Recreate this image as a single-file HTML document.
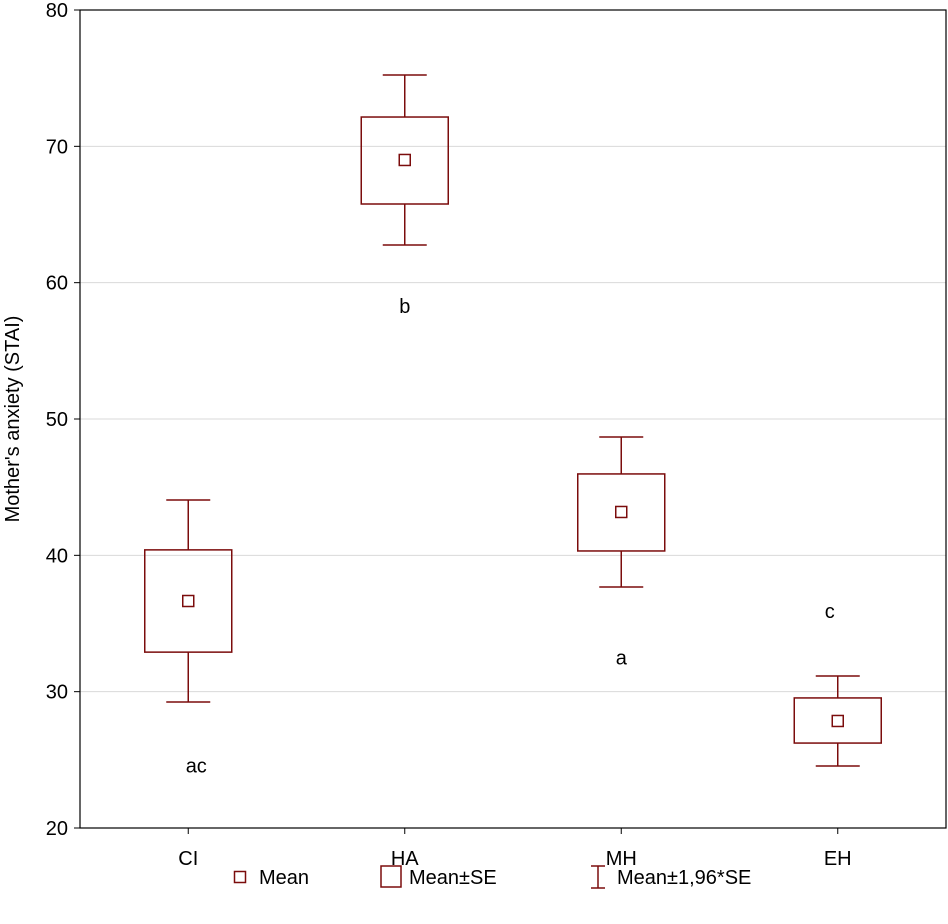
<!DOCTYPE html>
<html><head><meta charset="utf-8"><style>
body{margin:0;background:#fff;}
svg text{font-family:"Liberation Sans",Arial,sans-serif;fill:#000;}
</style></head><body>
<svg id="chart" width="948" height="919" xmlns="http://www.w3.org/2000/svg"></svg>
<script>
const categories=["CI","HA","MH","EH"];
const means=[36.65,69.0,43.18,27.85];
const seLow=[32.9,65.77,40.32,26.23];
const seHigh=[40.4,72.15,45.97,29.54];
const ciLow=[29.24,62.76,37.68,24.55];
const ciHigh=[44.06,75.23,48.68,31.15];
const groupLetters=["ac","b","a","c"];
const letterValues=[24.6,58.3,32.5,35.9];
const yTicks=[20,30,40,50,60,70,80];

const L=80,R=946,T=10,B=828,yMin=20,yMax=80;
const C="#7b0c0c";
const svg=document.getElementById('chart');
const NS="http://www.w3.org/2000/svg";
function y(v){return B-(v-yMin)/(yMax-yMin)*(B-T);}
function x(i){const w=(R-L)/categories.length;return L+w*(i+0.5);}
function el(tag,attrs,parent){const e=document.createElementNS(NS,tag);for(const k in attrs)e.setAttribute(k,attrs[k]);(parent||svg).appendChild(e);return e;}

yTicks.forEach(t=>{
  if(t>yMin&&t<yMax){const g=el('line',{x1:L,x2:R,y1:y(t),y2:y(t),stroke:"#d9d9d9","stroke-width":1});
  
  }
  const tk=el('line',{x1:L-6,x2:L,y1:y(t),y2:y(t),stroke:"#000"});
  
  
  const tx=el('text',{x:L-12,y:y(t)+7,"text-anchor":"end","font-size":20});
  tx.textContent=t;
  
  
});
const frame=el('rect',{x:L,y:T,width:R-L,height:B-T,fill:"none",stroke:"#000","stroke-width":1.2});



categories.forEach((c,i)=>{
  const cx=x(i);
  const tk=el('line',{x1:cx,x2:cx,y1:B,y2:B+6,stroke:"#000"});
  
  
  const lb=el('text',{x:cx,y:B+37,"text-anchor":"middle","font-size":20});
  lb.textContent=c;
  
  
  const g=el('g',{});
  
  
  el('line',{x1:cx,x2:cx,y1:y(ciHigh[i]),y2:y(seHigh[i]),stroke:C,"stroke-width":1.5},g);
  el('line',{x1:cx,x2:cx,y1:y(seLow[i]),y2:y(ciLow[i]),stroke:C,"stroke-width":1.5},g);
  el('line',{x1:cx-22,x2:cx+22,y1:y(ciHigh[i]),y2:y(ciHigh[i]),stroke:C,"stroke-width":1.5},g);
  el('line',{x1:cx-22,x2:cx+22,y1:y(ciLow[i]),y2:y(ciLow[i]),stroke:C,"stroke-width":1.5},g);
  el('rect',{x:cx-43.5,y:y(seHigh[i]),width:87,height:y(seLow[i])-y(seHigh[i]),fill:"none",stroke:C,"stroke-width":1.5},g);
  el('rect',{x:cx-5.5,y:y(means[i])-5.5,width:11,height:11,fill:"none",stroke:C,"stroke-width":1.5},g);
  const lt=el('text',{x:cx+(i===0?8:i===3?-8:0),y:y(letterValues[i])+7,"text-anchor":"middle","font-size":20});
  lt.textContent=groupLetters[i];
  
  
});

const yt=el('text',{x:0,y:0,"text-anchor":"middle","font-size":20,transform:"translate(19,"+((T+B)/2)+") rotate(-90)"});
yt.textContent="Mother's anxiety (STAI)";



const lg=el('g',{});


el('rect',{x:234.5,y:871.5,width:11,height:11,fill:"none",stroke:C,"stroke-width":1.5},lg);
let t1=el('text',{x:259,y:884,"font-size":20},lg);t1.textContent="Mean";
el('rect',{x:381,y:866,width:20,height:21,fill:"none",stroke:C,"stroke-width":1.5},lg);
let t2=el('text',{x:409,y:884,"font-size":20},lg);t2.textContent="Mean±SE";
el('line',{x1:598,x2:598,y1:866,y2:888,stroke:C,"stroke-width":1.5},lg);
el('line',{x1:591,x2:605,y1:866,y2:866,stroke:C,"stroke-width":1.5},lg);
el('line',{x1:591,x2:605,y1:888,y2:888,stroke:C,"stroke-width":1.5},lg);
let t3=el('text',{x:617,y:884,"font-size":20},lg);t3.textContent="Mean±1,96*SE";
</script>
</body></html>
